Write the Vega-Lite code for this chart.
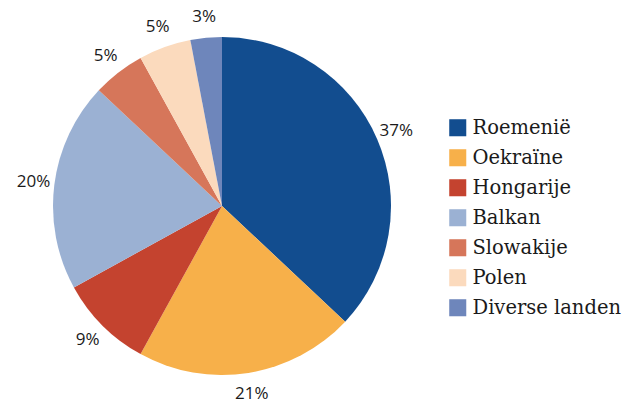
{
  "$schema": "https://vega.github.io/schema/vega-lite/v6.json",
  "width": 444,
  "height": 402,
  "autosize": "none",
  "padding": {"top": 5, "left": 0, "right": 183, "bottom": 0},
  "background": "white",
  "data": {"values": [
    {"land": "Roemenië", "pct": 37, "label": "37%", "ord": 1},
    {"land": "Oekraïne", "pct": 21, "label": "21%", "ord": 2},
    {"land": "Hongarije", "pct": 9, "label": "9%", "ord": 3},
    {"land": "Balkan", "pct": 20, "label": "20%", "ord": 4},
    {"land": "Slowakije", "pct": 5, "label": "5%", "ord": 5},
    {"land": "Polen", "pct": 5, "label": "5%", "ord": 6},
    {"land": "Diverse landen", "pct": 3, "label": "3%", "ord": 7}
  ]},
  "encoding": {
    "theta": {"field": "pct", "type": "quantitative", "stack": true},
    "order": {"field": "ord", "type": "quantitative"}
  },
  "layer": [
    {
      "mark": {"type": "arc", "outerRadius": 169},
      "encoding": {
        "color": {
          "field": "land", "type": "nominal",
          "scale": {
            "domain": ["Roemenië", "Oekraïne", "Hongarije", "Balkan", "Slowakije", "Polen", "Diverse landen"],
            "range": ["#124D8F", "#F7B04A", "#C4432F", "#9BB1D3", "#D6765A", "#FBDABD", "#6E86BB"]
          },
          "legend": {
            "title": null,
            "orient": "none",
            "legendX": 448,
            "legendY": 113,
            "symbolType": "square",
            "symbolSize": 290,
            "symbolStrokeWidth": 0,
            "symbolOpacity": 1,
            "labelFont": "DejaVu Serif",
            "labelFontSize": 19.5,
            "labelColor": "#1a1a1a",
            "labelOffset": 5,
            "labelLimit": 300,
            "rowPadding": 9
          }
        }
      }
    },
    {
      "mark": {"type": "text", "radius": 190, "font": "Open Sans", "fontSize": 17, "color": "#1a1a1a"},
      "encoding": {"text": {"field": "label", "type": "nominal"}}
    }
  ],
  "config": {"view": {"stroke": null}}
}
